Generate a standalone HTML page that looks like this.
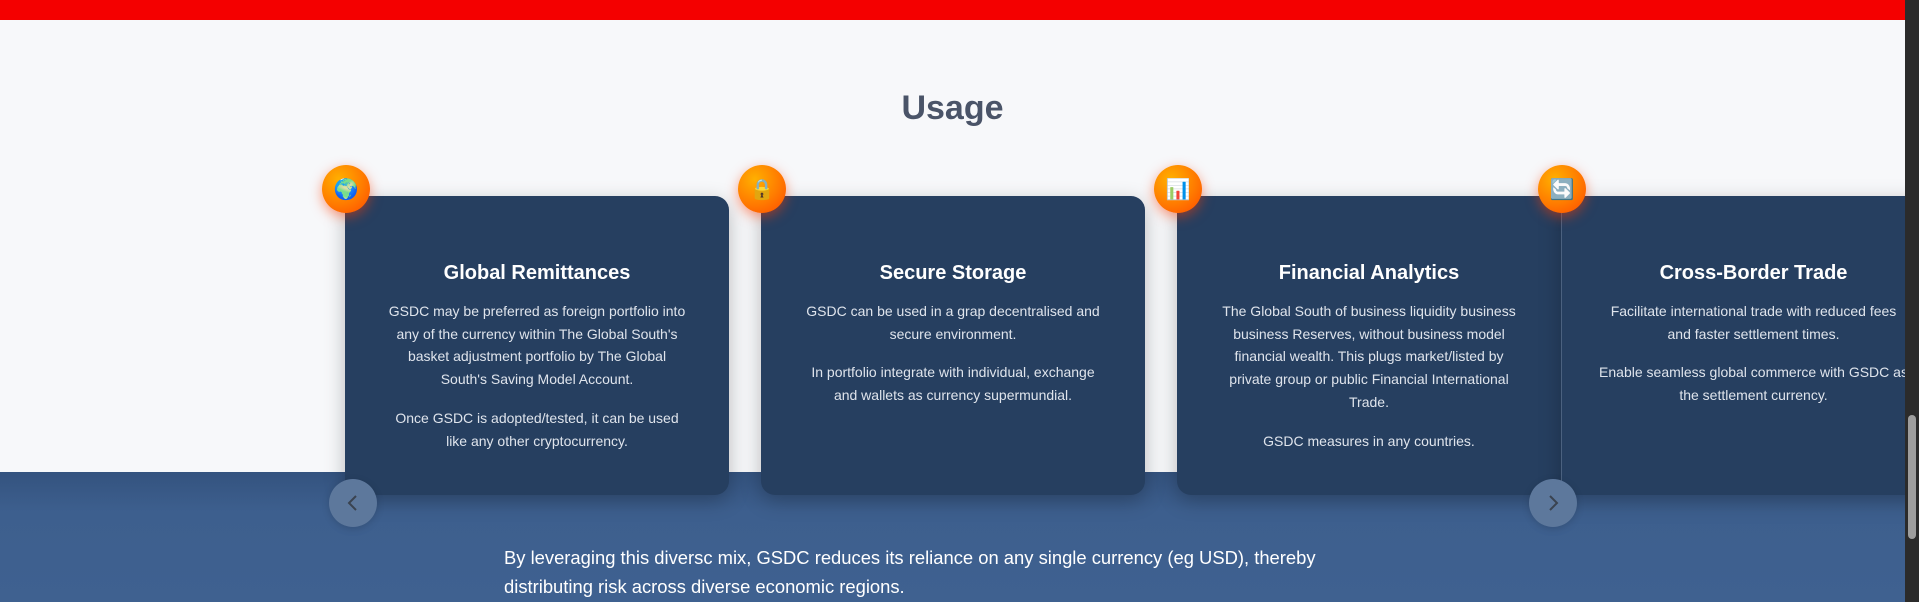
<!DOCTYPE html>
<html><head><meta charset="utf-8"><style>
*{margin:0;padding:0;box-sizing:border-box}
body{width:1919px;height:602px;overflow:hidden;background:#f7f8fa;font-family:"Liberation Sans",sans-serif;position:relative}
.red{position:absolute;left:0;top:0;width:1905px;height:20px;background:#f40000}
.blue{position:absolute;left:0;top:472px;width:1905px;height:130px;background:linear-gradient(#34537f,#3d5f8e 40px,#3f6190)}
h1{position:absolute;top:88px;left:0;width:1905px;text-align:center;font-size:34px;font-weight:bold;color:#4a5468;line-height:40px}
.card{position:absolute;top:196px;width:384px;height:299px;background:#263f60;border-radius:14px;box-shadow:0 6px 20px rgba(0,0,0,.25);color:#dfe4ec;text-align:center;padding-top:64px}
.card h2{font-size:20px;color:#fff;font-weight:bold;line-height:26px;margin-bottom:14px}
.card p{font-size:14px;line-height:22.7px;margin-bottom:16px;white-space:nowrap}
.icon{position:absolute;top:165px;width:48px;height:48px;border-radius:50%;background:radial-gradient(circle at 35% 30%,#ffb000,#ff7a00 55%,#ff4a00);box-shadow:0 4px 12px rgba(255,60,0,.5);display:flex;align-items:center;justify-content:center;font-size:20px;font-family:"DejaVu Sans",sans-serif}
.nav{position:absolute;top:479px;width:48px;height:48px;border-radius:50%;background:#5d789c;box-shadow:0 2px 8px rgba(0,0,0,.15)}
.nav svg{position:absolute;left:16px;top:14px}
.txt{position:absolute;left:504px;top:543px;color:#fff;font-size:18.4px;line-height:29px}
.sb{position:absolute;left:1905px;top:0;width:14px;height:602px;background:#2b2b2b}
.thumb{position:absolute;left:1908px;top:415px;width:8px;height:124px;border-radius:4px;background:#9e9e9e}
</style></head><body>
<div class="red"></div>
<div class="blue"></div>
<h1>Usage</h1>

<div class="card" style="left:345px"><h2>Global Remittances</h2>
<p>GSDC may be preferred as foreign portfolio into<br>any of the currency within The Global South's<br>basket adjustment portfolio by The Global<br>South's Saving Model Account.</p>
<p>Once GSDC is adopted/tested, it can be used<br>like any other cryptocurrency.</p></div>

<div class="card" style="left:761px"><h2>Secure Storage</h2>
<p>GSDC can be used in a grap decentralised and<br>secure environment.</p>
<p>In portfolio integrate with individual, exchange<br>and wallets as currency supermundial.</p></div>

<div class="card" style="left:1177px"><h2>Financial Analytics</h2>
<p>The Global South of business liquidity business<br>business Reserves, without business model<br>financial wealth. This plugs market/listed by<br>private group or public Financial International<br>Trade.</p>
<p>GSDC measures in any countries.</p></div>

<div class="card" style="left:1561px;border-radius:0;border-left:1px solid #4b617f"><h2>Cross-Border Trade</h2>
<p>Facilitate international trade with reduced fees<br>and faster settlement times.</p>
<p>Enable seamless global commerce with GSDC as<br>the settlement currency.</p></div>

<div class="icon" style="left:322px">🌍</div>
<div class="icon" style="left:738px">🔒</div>
<div class="icon" style="left:1154px">📊</div>
<div class="icon" style="left:1538px">🔄</div>

<div class="nav" style="left:329px"><svg width="16" height="20"><path d="M11 3 L4 10 L11 17" stroke="#3a4350" stroke-width="2" fill="none"/></svg></div>
<div class="nav" style="left:1529px"><svg width="16" height="20"><path d="M5 3 L12 10 L5 17" stroke="#3a4350" stroke-width="2" fill="none"/></svg></div>

<div class="txt">By leveraging this diversc mix, GSDC reduces its reliance on any single currency (eg USD), thereby<br>distributing risk across diverse economic regions.</div>
<div class="sb"></div><div class="thumb"></div>
</body></html>
